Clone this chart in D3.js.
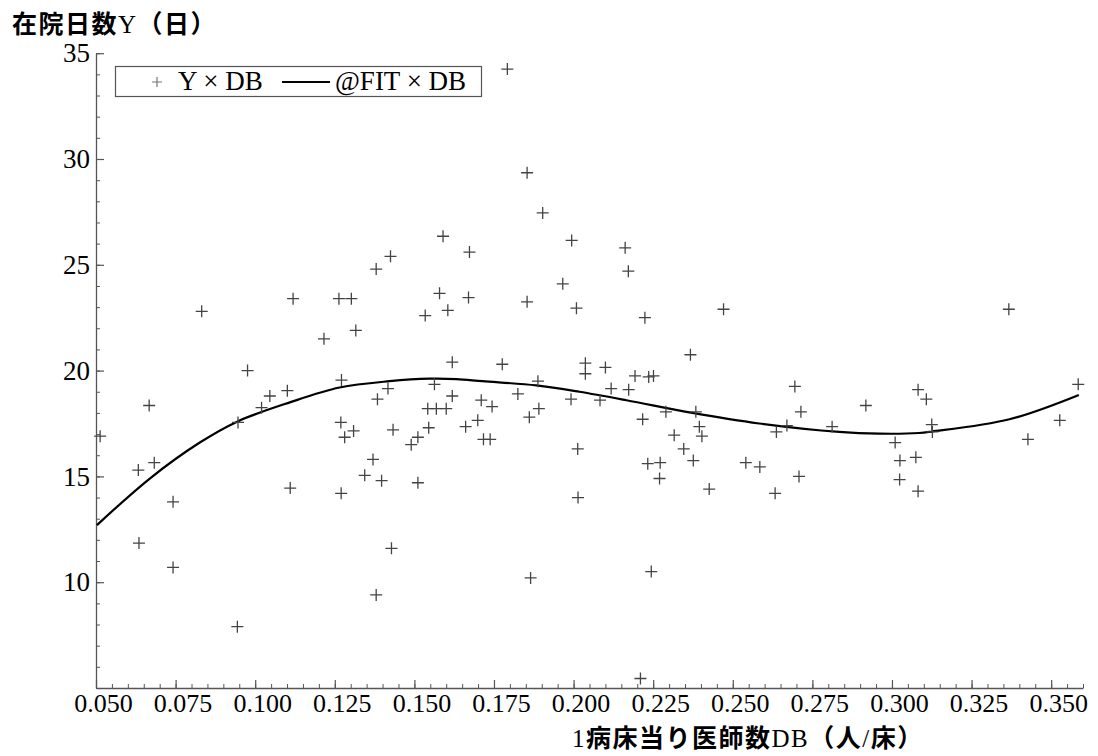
<!DOCTYPE html>
<html>
<head>
<meta charset="utf-8">
<script src="https://cdn.jsdelivr.net/npm/d3@7"></script>
<style>
  body { margin: 0; background: #fff; }
  svg { display: block; }
</style>
</head>
<body>
<div id="chart"></div>
<script>
// observed points: doctors per bed (DB) and length of stay Y (days)
const db = [
  0.0513, 0.0633, 0.0635, 0.0667, 0.0683, 0.0742, 0.0742, 0.0832, 0.0944, 0.0946,
  0.0976, 0.1020, 0.1046, 0.1101, 0.1110, 0.1119, 0.1216, 0.1263, 0.1271, 0.1269,
  0.1270, 0.1281, 0.1302, 0.1309, 0.1316, 0.1344, 0.1370, 0.1380, 0.1380, 0.1384,
  0.1397, 0.1417, 0.1425, 0.1428, 0.1433, 0.1490, 0.1511, 0.1511, 0.1534, 0.1545,
  0.1542, 0.1569, 0.1600, 0.1563, 0.1579, 0.1590, 0.1605, 0.1619, 0.1619, 0.1661,
  0.1670, 0.1673, 0.1699, 0.1710, 0.1717, 0.1738, 0.1744, 0.1776, 0.1792, 0.1825,
  0.1854, 0.1854, 0.1861, 0.1865, 0.1888, 0.1891, 0.1903, 0.1966, 0.1994, 0.1992,
  0.2009, 0.2013, 0.2014, 0.2037, 0.2037, 0.2083, 0.2100, 0.2118, 0.2162, 0.2172,
  0.2173, 0.2193, 0.2210, 0.2217, 0.2224, 0.2233, 0.2236, 0.2244, 0.2251, 0.2272,
  0.2270, 0.2290, 0.2316, 0.2346, 0.2367, 0.2376, 0.2384, 0.2395, 0.2403, 0.2426,
  0.2471, 0.2541, 0.2585, 0.2633, 0.2637, 0.2670, 0.2695, 0.2708, 0.2714, 0.2812,
  0.2918, 0.3010, 0.3024, 0.3025, 0.3075, 0.3082, 0.3082, 0.3108, 0.3125, 0.3127,
  0.3367, 0.3427, 0.3527, 0.3585
]
const stay = [
  16.9, 15.3, 11.85, 18.35, 15.65, 13.8, 10.7, 22.8, 7.9, 17.55,
  20.0, 18.25, 18.8, 19.05, 14.45, 23.4, 21.5, 23.4, 19.55, 17.55,
  14.2, 16.85, 23.4, 17.15, 21.9, 15.05, 15.8, 24.8, 9.4, 18.65,
  14.8, 19.15, 25.4, 11.6, 17.2, 16.5, 16.85, 14.7, 22.6, 17.3,
  18.2, 18.2, 18.2, 19.35, 23.65, 26.35, 22.85, 20.4, 18.8, 17.35,
  23.45, 25.6, 17.65, 18.6, 16.75, 16.75, 18.3, 20.3, 34.25, 18.9,
  29.35, 23.25, 17.8, 10.2, 19.5, 18.2, 27.45, 24.1, 26.15, 18.65,
  22.95, 16.3, 14.0, 20.35, 19.85, 18.6, 20.15, 19.15, 25.8, 24.7,
  19.1, 19.75, 5.45, 17.7, 22.5, 15.6, 19.7, 10.5, 19.75, 15.65,
  14.9, 18.05, 16.95, 16.3, 20.75, 15.75, 18.05, 17.35, 16.9, 14.4,
  22.9, 15.65, 15.45, 14.2, 17.1, 17.4, 19.25, 15.0, 18.05, 17.35,
  18.35, 16.6, 14.85, 15.75, 15.9, 19.1, 14.3, 18.65, 17.45, 17.1,
  22.9, 16.75, 17.65, 19.35
]

// fitted values (@FIT)
const fitDB = [0.0503, 0.0669, 0.0826, 0.0945, 0.1109, 0.1265, 0.1422, 0.1548, 0.1632, 0.1714,
  0.1883, 0.2018, 0.2166, 0.2373, 0.2583, 0.2834, 0.2960, 0.3085, 0.3126, 0.3369, 0.3587]
const fitStay = [12.7, 14.9, 16.6, 17.6, 18.5, 19.2, 19.5, 19.62, 19.6, 19.5,
  19.3, 19.0, 18.6, 18.0, 17.5, 17.1, 17.02, 17.05, 17.12, 17.7, 18.85]

const xTicks = [0.05, 0.075, 0.1, 0.125, 0.15, 0.175, 0.2, 0.225, 0.25, 0.275, 0.3, 0.325, 0.35]
const yTicks = [10, 15, 20, 25, 30, 35]

const width = 1098,
    height = 756;

const serif = "'Liberation Serif', 'Times New Roman', serif"
const gothic = "'Noto Sans CJK JP', sans-serif"
const axisColor = "#555"

const x = d3.scaleLinear().domain([0.05, 0.36]).range([96, 1083])
const y = d3.scaleLinear().domain([5, 35]).range([688, 53.2])

const svg = d3.select("#chart")
    .append("svg")
    .attr("width", width)
    .attr("height", height)

svg.append("rect").attr("width", width).attr("height", height).attr("fill", "#fff")

// minor ticks first, then the labelled axes on top
const xMinor = d3.range(10, 73).map(i => i / 200)
const yMinor = d3.range(5, 36)

svg.append("g")
    .attr("transform", `translate(0,${y(5)})`)
    .call(d3.axisBottom(x).tickValues(xMinor).tickSize(-4).tickFormat(""))
    .call(g => g.select(".domain").remove())
    .call(g => g.selectAll("line").attr("stroke", axisColor))

svg.append("g")
    .attr("transform", `translate(${x(0.05)},0)`)
    .call(d3.axisLeft(y).tickValues(yMinor).tickSize(-4).tickFormat(""))
    .call(g => g.select(".domain").remove())
    .call(g => g.selectAll("line").attr("stroke", axisColor))

const xAxis = svg.append("g")
    .attr("transform", `translate(0,${y(5)})`)
    .call(d3.axisBottom(x).tickValues(xTicks).tickSize(-8).tickSizeOuter(0)
        .tickPadding(6).tickFormat(d3.format(".3f")))

xAxis.select(".domain").attr("stroke", axisColor).attr("stroke-width", 1.3)
xAxis.selectAll("line").attr("stroke", axisColor).attr("stroke-width", 1.2)
xAxis.selectAll("text")
    .attr("dx", 7)
    .attr("fill", "#000")
    .style("font-family", serif)
    .style("font-size", "26px")

const yAxis = svg.append("g")
    .attr("transform", `translate(${x(0.05)},0)`)
    .call(d3.axisLeft(y).tickValues(yTicks).tickSize(-8).tickSizeOuter(0).tickPadding(6))

yAxis.select(".domain").attr("stroke", axisColor).attr("stroke-width", 1.3)
yAxis.selectAll("line").attr("stroke", axisColor).attr("stroke-width", 1.2)
yAxis.selectAll("text")
    .attr("fill", "#000")
    .style("font-family", serif)
    .style("font-size", "27px")

// fitted curve
const fit = fitDB.map((d, i) => ({db: d, y: fitStay[i]}))
svg.append("path")
    .datum(fit)
    .attr("fill", "none")
    .attr("stroke", "#000")
    .attr("stroke-width", 2.2)
    .attr("d", d3.line().x(d => x(d.db)).y(d => y(d.y)).curve(d3.curveCatmullRom.alpha(0.5)))

// scatter of + marks
const plus = "M-6,0H6M0,-6V6"
const points = db.map((d, i) => ({db: d, y: stay[i]}))
svg.append("g")
    .selectAll("path")
    .data(points)
    .join("path")
    .attr("transform", d => `translate(${x(d.db)},${y(d.y)})`)
    .attr("d", plus)
    .attr("stroke", "#444")
    .attr("stroke-width", 1.3)
    .attr("fill", "none")

// legend
const legend = svg.append("g")
legend.append("rect")
    .attr("x", 115.5).attr("y", 66.5)
    .attr("width", 366).attr("height", 30)
    .attr("fill", "#fff")
    .attr("stroke", "#555")
    .attr("stroke-width", 1.2)
legend.append("path")
    .attr("transform", "translate(157,82)")
    .attr("d", "M-5,0H5M0,-5V5")
    .attr("stroke", "#777")
    .attr("stroke-width", 1.2)
legend.append("text")
    .attr("x", 178).attr("y", 90)
    .style("font-family", serif).style("font-size", "27px")
    .text("Y × DB")
legend.append("line")
    .attr("x1", 282).attr("x2", 330)
    .attr("y1", 82).attr("y2", 82)
    .attr("stroke", "#000").attr("stroke-width", 2)
legend.append("text")
    .attr("x", 335).attr("y", 90)
    .style("font-family", serif).style("font-size", "27px")
    .text("@FIT × DB")

// mixed Japanese / Latin titles: gothic bold for kana & kanji, serif for the rest
const cjk = /[\u3000-\u9fff\uff00-\uffef]+|[^\u3000-\u9fff\uff00-\uffef]+/g
function mixedText(sel, str) {
    str.match(cjk).forEach(run => {
        const isCjk = /[\u3000-\u9fff\uff00-\uffef]/.test(run)
        sel.append("tspan")
            .style("font-family", isCjk ? gothic : serif)
            .style("font-weight", isCjk ? 700 : 400)
            .text(run)
    })
}

svg.append("text")
    .attr("x", 12).attr("y", 33)
    .style("font-size", "25px")
    .style("letter-spacing", "1.5px")
    .call(t => mixedText(t, "在院日数Y（日）"))

svg.append("text")
    .attr("x", 572).attr("y", 747)
    .style("font-size", "25px")
    .style("letter-spacing", "1.5px")
    .call(t => mixedText(t, "1病床当り医師数DB（人/床）"))
</script>
</body>
</html>
